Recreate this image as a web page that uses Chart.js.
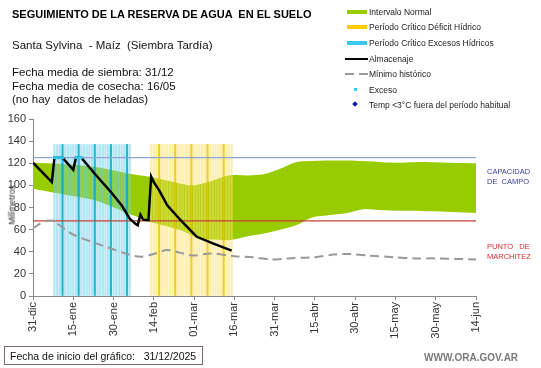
<!DOCTYPE html>
<html>
<head>
<meta charset="utf-8">
<script src="https://cdn.jsdelivr.net/npm/chart.js@4.4.1/dist/chart.umd.min.js"></script>
<style>
  html, body { margin:0; padding:0; background:#fff; }
  #wrap { position:relative; width:541px; height:368px; overflow:hidden; font-family:"Liberation Sans", Arial, sans-serif; }
  canvas { position:absolute; left:0; top:0; }
  .t { position:absolute; white-space:pre; color:#000; line-height:1; }
  .lg { position:absolute; font-size:8.5px; color:#222; white-space:pre; line-height:1; }
  .sw { position:absolute; }
</style>
</head>
<body>
<div id="wrap">
  <canvas id="c" width="541" height="368"></canvas>
  <div class="t" style="left:12px;top:9px;font-size:11px;font-weight:bold;">SEGUIMIENTO DE LA RESERVA DE AGUA  EN EL SUELO</div>
  <div class="t" style="left:12px;top:40px;font-size:11.5px;color:#111;">Santa Sylvina  - Maíz  (Siembra Tardía)</div>
  <div class="t" style="left:12px;top:67px;font-size:11.5px;color:#111;">Fecha media de siembra: 31/12</div>
  <div class="t" style="left:12px;top:81px;font-size:11.5px;color:#111;">Fecha media de cosecha: 16/05</div>
  <div class="t" style="left:12px;top:94px;font-size:11.5px;color:#111;">(no hay  datos de heladas)</div>

  <div class="sw" style="left:347px;top:10px;width:20px;height:4px;background:#99cc00;"></div>
  <div class="lg" style="left:369px;top:8px;">Intervalo Normal</div>
  <div class="sw" style="left:347px;top:25px;width:20px;height:4px;background:#ffcc00;"></div>
  <div class="lg" style="left:369px;top:23px;">Período Crítico Déficit Hídrico</div>
  <div class="sw" style="left:347px;top:41px;width:20px;height:4px;background:#33ccee;"></div>
  <div class="lg" style="left:369px;top:39px;">Período Crítico Excesos Hídricos</div>
  <div class="sw" style="left:345px;top:58px;width:23px;height:2px;background:#000;"></div>
  <div class="lg" style="left:369px;top:55px;">Almacenaje</div>
  <div class="sw" style="left:345px;top:73px;width:9px;height:2px;background:#999;"></div>
  <div class="sw" style="left:359px;top:73px;width:9px;height:2px;background:#999;"></div>
  <div class="lg" style="left:369px;top:70px;">Mínimo histórico</div>
  <div class="sw" style="left:354px;top:88px;width:3px;height:3px;background:#33ccee;"></div>
  <div class="lg" style="left:369px;top:86px;">Exceso</div>
  <div class="sw" style="left:353px;top:102px;width:4px;height:4px;background:#1a1aa6;transform:rotate(45deg);"></div>
  <div class="lg" style="left:369px;top:101px;">Temp &lt;3°C fuera del período habitual</div>

  <div class="t" style="left:12px;top:205px;font-size:8.5px;color:#222;transform:translate(-50%,-50%) rotate(-90deg);">Milímetros</div>

  <div class="t" style="left:487px;top:167px;font-size:7.5px;color:#3a3aa0;line-height:10px;">CAPACIDAD
DE  CAMPO</div>
  <div class="t" style="left:487px;top:242px;font-size:7.5px;color:#d03030;line-height:10px;">PUNTO   DE
MARCHITEZ</div>

  <div class="t" style="left:4px;top:346px;width:199px;height:19px;border:1px solid #7f6a6a;box-sizing:border-box;"></div>
  <div class="t" style="left:10px;top:351px;font-size:10.5px;color:#111;">Fecha de inicio del gráfico:   31/12/2025</div>
  <div class="t" style="left:424px;top:353px;font-size:10px;color:#7a7a7a;font-weight:bold;">WWW.ORA.GOV.AR</div>
</div>
<script>
// x axis: days since 31-dic
const tickLabels = ['31-dic','15-ene','30-ene','14-feb','01-mar','16-mar','31-mar','15-abr','30-abr','15-may','30-may','14-jun'];

const bandDays  = [0, 10, 23, 35, 44, 55, 59, 62, 67, 73, 80, 86, 92, 98, 104, 110, 117, 123, 130, 136, 142, 148, 156, 165];
const bandUpper = [120.5, 119.5, 116.5, 111, 107.5, 101.5, 100, 101, 104.5, 109, 109, 110, 115, 121, 122, 122.5, 122.5, 122, 121, 120.5, 121, 121, 120.5, 120];
const bandLower = [97, 92.5, 86.5, 75, 67, 59.5, 55, 52, 51, 50.5, 54, 56.5, 60, 64, 71, 73, 75, 78.5, 77.5, 77, 77, 76.5, 76, 75];

const almacenajeDias = [0, 7, 8, 11, 15, 16, 18, 23, 29, 33, 36, 38, 39, 40, 41, 43, 44, 45, 47, 50, 55, 61, 67, 74];
const almacenajeMm   = [120.5, 103, 125, 125, 114, 125, 125, 110.5, 94, 82, 70, 65.5, 64, 73.5, 69, 68.5, 108, 103, 95.5, 82, 68.5, 53.5, 47.5, 41];

const minimoDias = [0, 3, 5, 8, 9, 15, 23, 29, 35, 40, 45, 50, 55, 60, 66, 75, 82, 89, 95, 100, 105, 112, 118, 125, 135, 142, 150, 165];
const minimoMm   = [61, 66, 68, 68, 65.5, 55.5, 48, 43, 38, 35.5, 38, 41.5, 39, 36.5, 38.5, 36, 35, 33, 34, 34.5, 35, 37.5, 38, 36.5, 35, 34, 34, 33];

const excesoDias = [8, 9, 10, 11, 16, 17, 18];
const excesoMm   = [125, 125, 125, 125, 125, 125, 125];

const periodoExcesos = [8, 36];   // first and last day
const periodoDeficit = [44, 74];
const periodoAltura = 137;

const capacidadCampo = 125;
const puntoMarchitez = 68;

const xy = (xs, ys) => xs.map((x, i) => ({x, y: ys[i]}));
const range = (p) => { const a = []; for (let d = p[0]; d <= p[1]; d++) a.push({x: d, y: periodoAltura}); return a; };

const ctx = document.getElementById('c').getContext('2d');
new Chart(ctx, {
  type: 'line',
  data: {
    datasets: [
      { label: 'lower', data: xy(bandDays, bandLower), borderWidth: 0, pointRadius: 0, fill: false, order: 10, tension: 0.3 },
      { label: 'Intervalo Normal', data: xy(bandDays, bandUpper), borderWidth: 0, pointRadius: 0, fill: '-1', backgroundColor: '#99cc00', order: 10, tension: 0.3 },
      { type: 'bar', label: 'Excesos', data: range(periodoExcesos), grouped: false, barThickness: 1.6, order: 5,
        backgroundColor: (c) => (c.dataIndex % 6 === 3 ? 'rgba(20,170,210,0.9)' : 'rgba(110,210,235,0.55)') },
      { type: 'bar', label: 'Deficit', data: range(periodoDeficit), grouped: false, barThickness: 1.6, order: 5,
        backgroundColor: (c) => (c.dataIndex % 6 === 3 ? 'rgba(240,195,0,0.85)' : 'rgba(255,225,100,0.55)') },
      { label: 'cap', data: [{x:0,y:capacidadCampo},{x:165,y:capacidadCampo}], borderColor: '#8ea6d6', borderWidth: 1.2, pointRadius: 0, order: 2 },
      { label: 'mar', data: [{x:0,y:puntoMarchitez},{x:165,y:puntoMarchitez}], borderColor: '#c8403a', borderWidth: 1.2, pointRadius: 0, order: 2 },
      { label: 'Mínimo histórico', data: xy(minimoDias, minimoMm), borderColor: '#999999', borderWidth: 2, borderDash: [9, 5], pointRadius: 0, tension: 0.3, order: 1 },
      { label: 'Almacenaje', data: xy(almacenajeDias, almacenajeMm), borderColor: '#000', borderWidth: 2.5, pointRadius: 0, order: 0 },
      { label: 'Exceso', data: xy(excesoDias, excesoMm), showLine: false, pointStyle: 'rect', pointRadius: 2, pointBackgroundColor: '#33ccee', pointBorderWidth: 0, order: -1 }
    ]
  },
  options: {
    responsive: false,
    animation: false,
    events: [],
    layout: { padding: { left: 0, right: 65, top: 119, bottom: 0 } },
    plugins: { legend: { display: false }, tooltip: { enabled: false } },
    scales: {
      x: {
        type: 'linear', min: 0, max: 165, offset: false,
        ticks: { stepSize: 15, autoSkip: false, maxRotation: 90, minRotation: 90, padding: 2,
          color: '#333', font: { family: 'Liberation Sans', size: 11 },
          callback: (v) => tickLabels[Math.round(v / 15)] },
        grid: { offset: false, drawOnChartArea: false, drawTicks: true, tickLength: 4, color: '#888' },
        border: { color: '#888', width: 1 },
        afterFit(s) { s.height = 72; s.paddingLeft = 0; s.paddingRight = 0; }
      },
      y: {
        min: 0, max: 160,
        ticks: { stepSize: 20, padding: 3, color: '#333', font: { family: 'Liberation Sans', size: 11 } },
        grid: { drawOnChartArea: false, drawTicks: true, tickLength: 4, color: '#888' },
        border: { color: '#888', width: 1 },
        afterFit(s) { s.width = 33; s.paddingTop = 0; s.paddingBottom = 0; }
      }
    }
  }
});
</script>
</body>
</html>
